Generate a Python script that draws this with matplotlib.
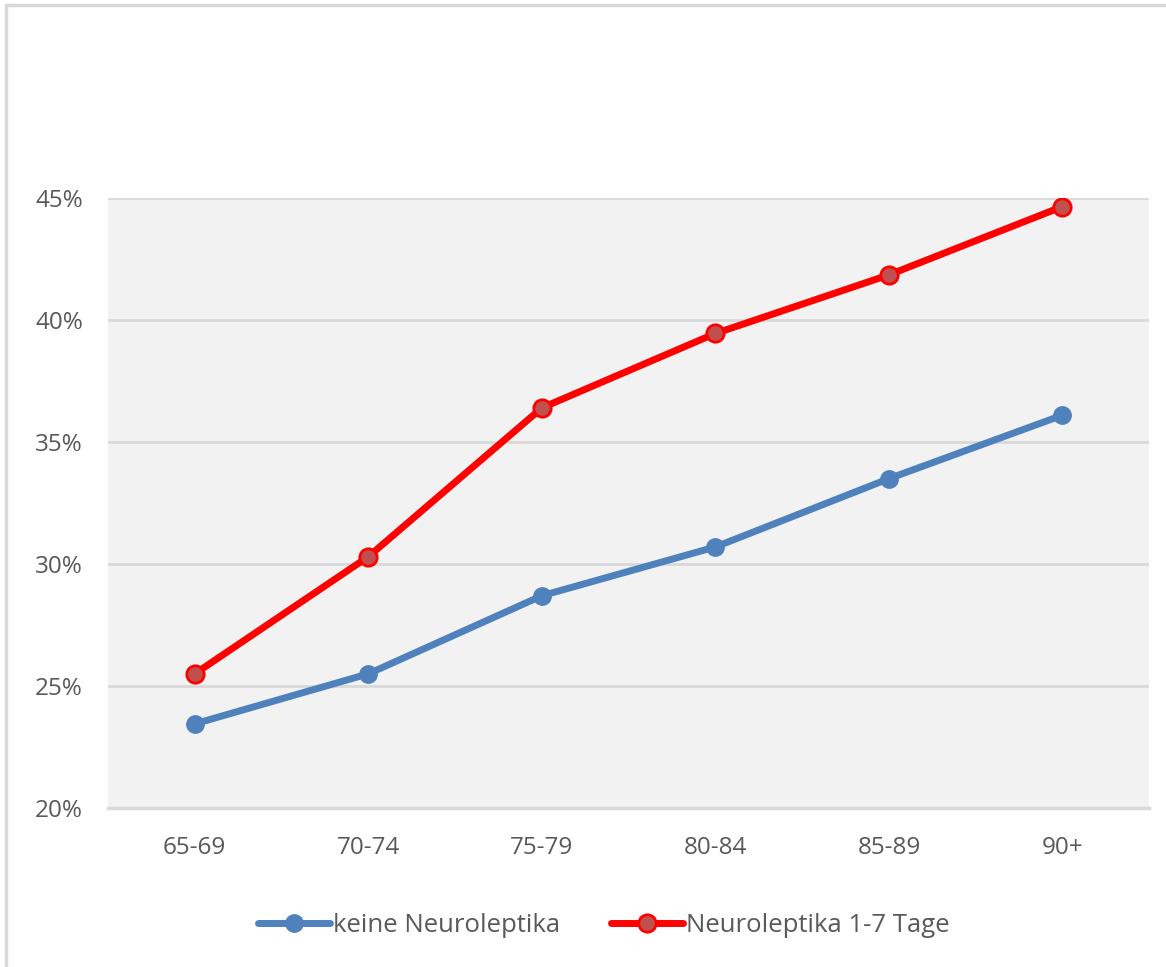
import matplotlib.pyplot as plt
from matplotlib.patches import Rectangle
from matplotlib.ticker import FuncFormatter

age_groups = ["65-69", "70-74", "75-79", "80-84", "85-89", "90+"]
keine = [23.45, 25.5, 28.7, 30.7, 33.5, 36.1]
nl_1_7 = [25.5, 30.3, 36.4, 39.45, 41.85, 44.65]

TEXT = "#595959"
plt.rcParams["font.family"] = ["Open Sans", "DejaVu Sans"]

fig = plt.figure(figsize=(11.66, 9.67), dpi=100)
ax = fig.add_axes([0.0926, 0.1644, 0.893, 0.6308])

# outer chart frame (only top and left edges visible in the reference)
fig.patches.append(Rectangle((0.0052, -0.1), 1.2, 1.0948, transform=fig.transFigure,
                             fill=False, edgecolor="#d9d9d9", linewidth=2.5))

x = range(len(age_groups))
ax.plot(x, keine, color="#4f81bd", linewidth=5, marker="o", markersize=12.5,
        markerfacecolor="#4f81bd", markeredgecolor="#4f81bd",
        label="keine Neuroleptika", solid_capstyle="round", zorder=3)
ax.plot(x, nl_1_7, color="#ff0000", linewidth=5, marker="o", markersize=12.5,
        markerfacecolor="#c0504d", markeredgecolor="#ff0000", markeredgewidth=2,
        label="Neuroleptika 1-7 Tage", solid_capstyle="round", zorder=3)

ax.set_facecolor("#f2f2f2")
ax.set_xlim(-0.5, len(age_groups) - 0.5)
ax.set_ylim(20, 45)
ax.set_yticks([20, 25, 30, 35, 40, 45])
ax.yaxis.set_major_formatter(FuncFormatter(lambda v, _: f"{v:.0f}%"))
ax.set_xticks(list(x))
ax.set_xticklabels(age_groups)
ax.grid(axis="y", color="#d9d9d9", linewidth=2)
ax.axhline(20, color="#d9d9d9", linewidth=2.5, clip_on=False, zorder=1)
ax.set_axisbelow(True)
for s in ax.spines.values():
    s.set_visible(False)
ax.tick_params(length=0, labelsize=17.5, colors=TEXT)
ax.tick_params(axis="y", pad=18)
ax.tick_params(axis="x", pad=20)

leg = fig.legend(loc="center", bbox_to_anchor=(0.518, 0.043), ncol=2, frameon=False,
                 fontsize=18.5, handlelength=2.8, columnspacing=2.0, handletextpad=0.1)
for t in leg.get_texts():
    t.set_color(TEXT)

fig.savefig("out.png", dpi=100)
